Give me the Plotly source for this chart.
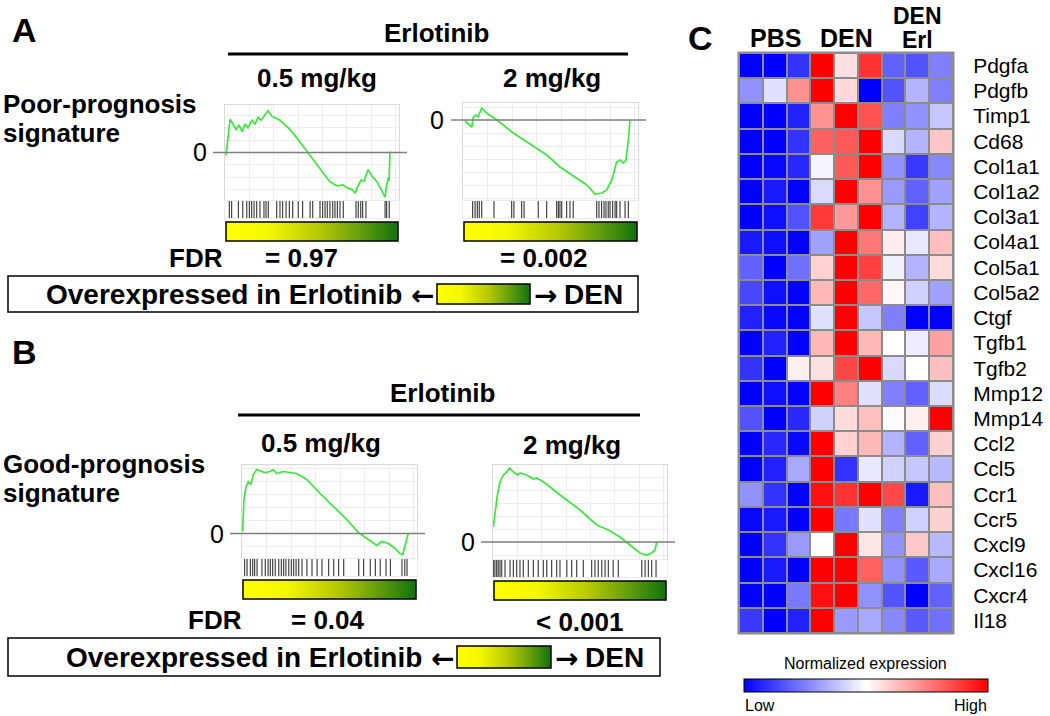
import plotly.graph_objects as go

W, H = 1050, 716
FONT = "Arial, Liberation Sans, sans-serif"

# GSEA running enrichment score, panel A (poor-prognosis), 0.5 mg/kg
a1_rank = [0.6, 2.9, 4.6, 6.3, 8.0, 9.8, 11.5, 13.2, 15.5, 17.2, 19.0, 20.7, 24.7, 27.0, 31.6, 37.4, 41.4,
           47.1, 54.6, 60.3, 64.4, 67.8, 70.1, 73.0, 74.7, 75.9, 78.2, 79.9, 82.2, 84.5, 87.4, 92.0, 92.5,
           93.7, 94.3, 94.8]
a1_es = [-0.03, 0.35, 0.30, 0.24, 0.29, 0.22, 0.30, 0.26, 0.34, 0.30, 0.37, 0.34, 0.44, 0.38, 0.34, 0.24, 0.15,
         0.01, -0.18, -0.31, -0.35, -0.34, -0.37, -0.39, -0.43, -0.37, -0.29, -0.30, -0.18, -0.25, -0.31, -0.47,
         -0.39, -0.27, -0.30, 0.01]
a1_hits = [2.5, 3.8, 7.7, 10.2, 12.5, 14.0, 15.3, 16.7, 18.2, 20.1, 22.4, 23.6, 24.9, 29.7, 31.6, 33.1, 35.1,
           37.0, 38.9, 42.1, 44.6, 48.9, 50.4, 54.6, 56.1, 57.5, 58.8, 60.3, 61.9, 63.2, 64.6, 66.1, 68.0,
           75.3, 76.6, 78.0, 79.1, 81.0, 92.0, 92.9, 94.4]

# panel A, 2 mg/kg
a2_rank = [1.1, 5.0, 5.9, 7.4, 8.6, 10.7, 13.5, 19.3, 28.7, 36.4, 47.8, 55.4, 65.0, 70.7, 75.4, 79.3, 82.1,
           85.0, 87.8, 89.7, 91.6, 93.1, 94.5, 95.4]
a2_es = [-0.01, -0.07, 0.03, 0.05, 0.03, 0.12, 0.07, 0.00, -0.13, -0.22, -0.35, -0.47, -0.58, -0.65, -0.74,
         -0.73, -0.70, -0.60, -0.42, -0.40, -0.43, -0.40, -0.20, 0.00]
a2_hits = [5.5, 6.9, 8.2, 9.3, 10.7, 17.7, 27.8, 29.1, 33.5, 34.9, 43.0, 47.8, 53.5, 54.5, 55.4, 56.4, 59.2,
           61.1, 63.0, 76.4, 77.7, 79.2, 80.6, 81.7, 83.0, 84.0, 85.5, 86.9, 87.8, 89.7, 92.6, 94.5]

# panel B (good-prognosis), 0.5 mg/kg
b1_rank = [0.4, 1.1, 2.3, 3.6, 5.0, 6.5, 8.4, 10.3, 13.1, 16.0, 17.9, 19.8, 23.6, 31.3, 37.0, 44.6, 52.2,
           59.8, 66.5, 71.3, 77.0, 79.8, 83.6, 87.4, 90.3, 91.8, 93.1, 95.0]
b1_es = [0.02, 0.34, 0.47, 0.52, 0.49, 0.59, 0.64, 0.63, 0.61, 0.62, 0.64, 0.60, 0.62, 0.60, 0.54, 0.40, 0.27,
         0.14, 0.01, -0.05, -0.12, -0.08, -0.10, -0.15, -0.20, -0.21, -0.13, 0.00]
b1_hits = [1.5, 2.9, 4.8, 6.1, 7.2, 8.6, 11.4, 13.3, 14.9, 16.2, 17.5, 19.0, 21.0, 22.5, 23.8, 25.1, 26.7,
           28.2, 29.5, 30.9, 32.4, 34.3, 37.1, 40.0, 42.9, 45.7, 49.5, 52.4, 55.2, 58.1, 66.7, 69.5, 73.3,
           76.2, 79.0, 82.3, 84.8, 91.4, 93.0, 94.3]

# panel B, 2 mg/kg
b2_rank = [0.2, 1.1, 2.5, 4.0, 5.9, 7.9, 9.4, 11.7, 14.2, 15.5, 19.4, 23.2, 25.1, 29.9, 38.5, 50.0, 59.6,
           66.3, 73.0, 78.7, 84.5, 88.3, 91.2, 93.1, 94.1]
b2_es = [0.15, 0.29, 0.47, 0.60, 0.67, 0.70, 0.74, 0.70, 0.67, 0.69, 0.67, 0.63, 0.64, 0.59, 0.47, 0.32, 0.17,
         0.12, 0.05, -0.03, -0.11, -0.13, -0.11, -0.08, 0.00]
b2_hits = [0.2, 1.1, 2.1, 3.0, 4.0, 5.0, 6.9, 9.8, 11.7, 13.6, 15.5, 17.4, 20.3, 23.2, 26.0, 28.9, 30.9,
           33.7, 36.6, 38.5, 42.4, 45.2, 48.1, 51.9, 56.7, 58.6, 60.5, 62.5, 64.4, 66.3, 69.1, 72.0, 85.5,
           87.4, 89.3, 91.2, 93.7]

# panel C heatmap (normalized expression, -1 low .. 1 high)
genes = ["Pdgfa", "Pdgfb", "Timp1", "Cd68", "Col1a1", "Col1a2", "Col3a1", "Col4a1", "Col5a1", "Col5a2",
         "Ctgf", "Tgfb1", "Tgfb2", "Mmp12", "Mmp14", "Ccl2", "Ccl5", "Ccr1", "Ccr5", "Cxcl9", "Cxcl16",
         "Cxcr4", "Il18"]
samples = ["PBS-1", "PBS-2", "PBS-3", "DEN-1", "DEN-2", "DEN-3", "Erl-1", "Erl-2", "Erl-3"]
expr = [
    [-1.00, -1.00, -0.80, 1.00, 0.12, 0.80, -0.62, -0.68, -0.50],
    [-0.43, -0.12, 0.43, 1.00, 0.15, -1.00, -0.68, -0.30, -0.50],
    [-1.00, -1.00, -0.87, 0.43, 1.00, 0.68, -0.50, -0.43, -0.22],
    [-1.00, -1.00, -0.80, 0.62, 0.65, 1.00, -0.15, -0.30, 0.22],
    [-1.00, -0.97, -0.84, -0.04, 0.65, 1.00, -0.43, -0.78, -0.47],
    [-1.00, -0.90, -1.00, -0.15, 1.00, 0.43, -0.40, -0.62, -0.37],
    [-1.00, -0.94, -0.68, 0.78, 0.40, 1.00, -0.30, -0.75, -0.30],
    [-0.90, -0.94, -1.00, -0.37, 1.00, 0.53, 0.07, -0.09, 0.25],
    [-0.62, -1.00, -0.56, 0.18, 1.00, 0.75, -0.06, -0.30, 0.14],
    [-0.72, -0.94, -1.00, 0.28, 1.00, 0.60, 0.03, -0.18, -0.37],
    [-0.87, -0.97, -1.00, -0.12, 1.00, -0.22, -0.50, -1.00, -1.00],
    [-1.00, -0.87, -1.00, 0.28, 1.00, 0.28, 0.00, -0.07, 0.37],
    [-0.80, -1.00, 0.06, 0.12, 0.72, 1.00, -0.15, 0.00, 0.25],
    [-1.00, -0.94, -1.00, 1.00, 0.50, -0.12, -0.50, -0.62, -0.14],
    [-0.68, -1.00, -0.84, -0.18, 0.14, 0.25, -0.01, 0.06, 1.00],
    [-1.00, -0.84, -0.97, 1.00, 0.18, 0.28, -0.30, -0.62, 0.18],
    [-1.00, -0.87, -0.34, 1.00, -0.80, -0.09, -0.18, -0.22, -0.28],
    [-0.43, -0.80, -1.00, 0.94, 0.80, 1.00, 0.72, -0.90, 0.25],
    [-0.97, -0.90, -1.00, 1.00, -0.53, -0.12, -0.50, -0.18, 0.18],
    [-1.00, -0.80, -0.40, 0.00, 1.00, 0.10, -0.43, 0.22, -0.28],
    [-1.00, -0.90, -1.00, 1.00, 1.00, 0.62, -0.43, -0.65, -0.34],
    [-1.00, -1.00, -0.53, 0.94, 1.00, -0.43, -0.68, -1.00, -0.62],
    [-0.78, -1.00, -0.87, 1.00, -0.40, -0.34, -0.47, -0.65, -0.56],
]

GRAD = [[0, "#ffff00"], [0.25, "#f4f700"], [0.55, "#b4c800"], [0.8, "#5c9a0c"], [1, "#0e720e"]]
BWR = [[0, "#0000ff"], [0.5, "#ffffff"], [1, "#ff0000"]]

fig = go.Figure()
axes = {}
shapes = []
annots = []
n_ax = [0]


def fx(px):
    return px / W


def fy(py):
    return 1 - py / H


def new_axes(x0, x1, y0, y1, xr, yr, xextra=None, yextra=None):
    n_ax[0] += 1
    s = "" if n_ax[0] == 1 else str(n_ax[0])
    xa = dict(domain=[fx(x0), fx(x1)], range=xr, anchor="y" + s, visible=False, fixedrange=True)
    ya = dict(domain=[fy(y1), fy(y0)], range=yr, anchor="x" + s, visible=False, fixedrange=True)
    xa.update(xextra or {})
    ya.update(yextra or {})
    axes["xaxis" + s] = xa
    axes["yaxis" + s] = ya
    return "x" + s, "y" + s


def txt(s, x, y, size=26, bold=True, anchor="center", family=FONT):
    annots.append(dict(text=s, x=fx(x), y=fy(y), xref="paper", yref="paper", showarrow=False,
                       xanchor=anchor, yanchor="middle",
                       font=dict(family=family, size=size, color="black",
                                 weight="bold" if bold else "normal")))


def rect(x0, y0, x1, y1, width=1.5, color="black", fill=None, layer="above"):
    shapes.append(dict(type="rect", xref="paper", yref="paper", x0=fx(x0), x1=fx(x1), y0=fy(y1), y1=fy(y0),
                       line=dict(color=color, width=width), fillcolor=fill, layer=layer))


def grad_bar(x0, x1, y0, y1):
    xa, ya = new_axes(x0, x1, y0, y1, [0, 1], [0, 1])
    fig.add_trace(go.Heatmap(z=[[0, 1], [0, 1]], x=[0, 1], y=[0, 1], zsmooth="best", colorscale=GRAD,
                             zmin=0, zmax=1, showscale=False, hoverinfo="skip", xaxis=xa, yaxis=ya))
    rect(x0, y0, x1, y1)


def gsea(rank, es, hits, box, yr, zero_lbl_x):
    x0, x1, top, bot = box
    grid = dict(visible=True, showgrid=True, gridcolor="#ededed", gridwidth=1, showline=True, mirror=True,
                linecolor="#d9d9d9", linewidth=1, showticklabels=False, ticks="", zeroline=False)
    xa, ya = new_axes(x0, x1, top, bot, [0, 100], yr, dict(grid, dtick=14),
                      dict(grid, dtick=0.13, tick0=0))
    fig.add_trace(go.Scatter(x=rank, y=es, mode="lines", line=dict(color="#3ce83c", width=1.7),
                             hoverinfo="skip", xaxis=xa, yaxis=ya))
    shapes.append(dict(type="line", xref="paper", yref=ya, x0=fx(x0 - 12), x1=fx(x1 + 8), y0=0, y1=0,
                       line=dict(color="#7f7f7f", width=1.6)))
    annots.append(dict(text="0", x=fx(zero_lbl_x), y=0, xref="paper", yref=ya, showarrow=False,
                       xanchor="center", yanchor="middle", font=dict(family=FONT, size=25, color="black")))
    # hit strip
    hx, hy = [], []
    for h in hits:
        hx += [h, h, None]
        hy += [0, 1, None]
    strip = dict(visible=True, showgrid=False, showline=True, mirror=True, linecolor="#ececec",
                 showticklabels=False, ticks="", zeroline=False)
    sxa, sya = new_axes(x0, x1, bot + 1, bot + 18, [0, 100], [0, 1], strip, strip)
    fig.add_trace(go.Scatter(x=hx, y=hy, mode="lines", line=dict(color="rgba(50,50,50,0.9)", width=1.2),
                             hoverinfo="skip", xaxis=sxa, yaxis=sya))
    grad_bar(x0 + 1, x1 - 1, bot + 22, bot + 41)


def legend_box(x0, x1, y0, y1, gx0, gx1):
    rect(x0, y0, x1, y1)
    ym = (y0 + y1) / 2
    txt("Overexpressed in Erlotinib", gx0 - 33, ym, size=28, anchor="right")
    txt("\u2190", gx0 - 15, ym + 1, size=28, family="DejaVu Sans")
    grad_bar(gx0, gx1, y0 + 8, y1 - 8)
    txt("\u2192", gx1 + 15, ym + 1, size=28, family="DejaVu Sans")
    txt("DEN", gx1 + 32, ym, size=28, anchor="left")


# ---------------- panel A ----------------
txt("A", 24, 30, size=34)
txt("Erlotinib", 436, 33)
shapes.append(dict(type="line", xref="paper", yref="paper", x0=fx(228), x1=fx(628), y0=fy(54), y1=fy(54),
                   line=dict(color="black", width=3)))
txt("0.5 mg/kg", 317, 78)
txt("2 mg/kg", 552, 78)
txt("Poor-prognosis", 1, 104, anchor="left")
txt("signature", 1, 133, anchor="left")
gsea(a1_rank, a1_es, a1_hits, (225, 399, 105, 200), [-0.5, 0.5], 200)
gsea(a2_rank, a2_es, a2_hits, (463, 638, 103, 200), [-0.8, 0.17], 437)
txt("FDR", 196, 258)
txt("= 0.97", 301, 258)
txt("= 0.002", 543, 258)
legend_box(8, 638, 276, 312, 437, 530)

# ---------------- panel B ----------------
txt("B", 24, 352, size=34)
txt("Erlotinib", 442, 393)
shapes.append(dict(type="line", xref="paper", yref="paper", x0=fx(238), x1=fx(640), y0=fy(415), y1=fy(415),
                   line=dict(color="black", width=3)))
txt("0.5 mg/kg", 321, 443)
txt("2 mg/kg", 572, 445)
txt("Good-prognosis", 1, 464, anchor="left")
txt("signature", 1, 493, anchor="left")
gsea(b1_rank, b1_es, b1_hits, (242, 417, 465, 558), [-0.245, 0.685], 217)
gsea(b2_rank, b2_es, b2_hits, (493, 667, 465, 559), [-0.17, 0.77], 468)
txt("FDR", 215, 620)
txt("= 0.04", 328, 620)
txt("< 0.001", 579, 622)
legend_box(8, 660, 638, 676, 457, 551)

# ---------------- panel C ----------------
txt("C", 700, 38, size=34)
txt("PBS", 775, 38, size=25)
txt("DEN", 846, 38, size=25)
txt("DEN", 917, 16, size=23)
txt("Erl", 917, 40, size=23)
rect(738, 52, 954, 634, width=1, color="#8c8c8c", fill="#8c8c8c", layer="below")
hxa, hya = new_axes(739, 953, 53, 633, [-0.5, 8.5], [len(genes) - 0.5, -0.5],
                    yextra=dict(visible=True, side="right", tickvals=list(range(len(genes))), ticktext=genes,
                                ticks="outside", ticklen=15, tickcolor="rgba(0,0,0,0)", showline=False,
                                showgrid=False, zeroline=False,
                                tickfont=dict(family=FONT, size=21, color="black")))
fig.add_trace(go.Heatmap(
    z=expr, x=list(range(len(samples))), y=list(range(len(genes))), colorscale=BWR, zmin=-1, zmax=1,
    xgap=2, ygap=2, hoverinfo="skip", xaxis=hxa, yaxis=hya,
    colorbar=dict(orientation="h", x=fx(744), xanchor="left", y=fy(679), yanchor="top", len=244,
                  lenmode="pixels", thickness=13, outlinewidth=1, outlinecolor="black",
                  showticklabels=False, ticks="", xpad=0, ypad=0),
))
txt("Normalized expression", 865, 663, size=16, bold=False)
txt("Low", 743, 705, size=16, bold=False, anchor="left")
txt("High", 989, 705, size=16, bold=False, anchor="right")

fig.update_layout(
    width=W, height=H, margin=dict(l=0, r=0, t=0, b=0),
    paper_bgcolor="white", plot_bgcolor="white", showlegend=False,
    shapes=shapes, annotations=annots, **axes,
)

# the page body has a default 8px margin; drop it so the figure fills the window
fig.write_html("out.html", config={"displayModeBar": False},
               post_script="document.body.style.margin = '0';")
